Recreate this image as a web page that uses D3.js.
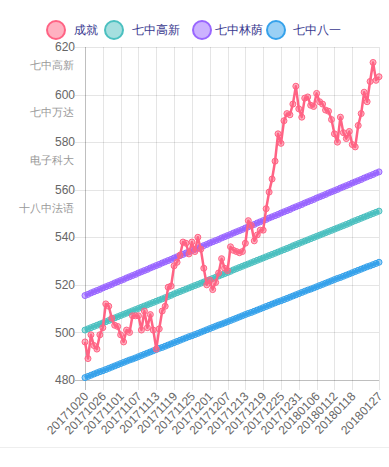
<!DOCTYPE html>
<html>
<head>
<meta charset="utf-8">
<title>成绩走势</title>
<script src="https://cdnjs.cloudflare.com/ajax/libs/d3/7.8.5/d3.min.js"></script>
<style>
body { margin: 0; background: #fff; }
svg text { font-family: "Liberation Sans", Helvetica, Arial, sans-serif; }
</style>
</head>
<body>
<script>
// categories: one per day
var dates = [
  "20171020","20171021","20171022","20171023","20171024","20171025","20171026","20171027","20171028","20171029","20171030","20171031",
  "20171101","20171102","20171103","20171104","20171105","20171106","20171107","20171108","20171109","20171110",
  "20171111","20171112","20171113","20171114","20171115","20171116","20171117","20171118","20171119","20171120",
  "20171121","20171122","20171123","20171124","20171125","20171126","20171127","20171128","20171129","20171130",
  "20171201","20171202","20171203","20171204","20171205","20171206","20171207","20171208","20171209","20171210",
  "20171211","20171212","20171213","20171214","20171215","20171216","20171217","20171218","20171219","20171220",
  "20171221","20171222","20171223","20171224","20171225","20171226","20171227","20171228","20171229","20171230","20171231",
  "20180101","20180102","20180103","20180104","20180105","20180106","20180107","20180108","20180109","20180110",
  "20180111","20180112","20180113","20180114","20180115","20180116","20180117","20180118","20180119","20180120",
  "20180121","20180122","20180123","20180124","20180125","20180126","20180127"
];

var xTickLabels = ["20171020","20171026","20171101","20171107","20171113","20171119","20171125","20171201",
  "20171207","20171213","20171219","20171225","20171231","20180106","20180112","20180118","20180127"];

var yTicks = [480, 500, 520, 540, 560, 580, 600, 620];
var yTickNotes = {620: "七中高新", 600: "七中万达", 580: "电子科大", 560: "十八中法语"};

var chengjiu = [
  496, 489, 499, 494.5, 493, 499, 502, 512, 511, 506,
  503, 502.5, 499, 496, 501, 500, 507, 507, 507, 501,
  509, 502, 507.5, 501, 493, 501.5, 509, 511, 519, 519.5,
  528, 529.5, 532.5, 538, 537.5, 533, 538, 534, 540, 535,
  527, 520, 522, 518, 521, 525, 531, 527, 526, 536,
  534.5, 534, 533.5, 534, 537.5, 547, 545, 538.5, 541, 543,
  543, 552, 559, 564.5, 572, 583.5, 579.5, 589, 592, 591.5,
  596, 603.5, 594, 590.5, 598.5, 599, 595.5, 595, 600.5, 597,
  596, 593.5, 593, 589.5, 583.5, 580, 590.5, 584, 581.5, 584.5,
  579, 578, 587, 592, 601, 597, 605.5, 613.5, 606, 607.5
];

var gaoxin = [
  501.0, 501.5, 502.0, 502.5, 503.0, 503.5, 504.0, 504.5, 505.0, 505.5,
  506.1, 506.6, 507.1, 507.6, 508.1, 508.6, 509.1, 509.6, 510.1, 510.6,
  511.1, 511.6, 512.1, 512.6, 513.1, 513.6, 514.1, 514.6, 515.1, 515.6,
  516.2, 516.7, 517.2, 517.7, 518.2, 518.7, 519.2, 519.7, 520.2, 520.7,
  521.2, 521.7, 522.2, 522.7, 523.2, 523.7, 524.2, 524.7, 525.2, 525.7,
  526.3, 526.8, 527.3, 527.8, 528.3, 528.8, 529.3, 529.8, 530.3, 530.8,
  531.3, 531.8, 532.3, 532.8, 533.3, 533.8, 534.3, 534.8, 535.3, 535.8,
  536.4, 536.9, 537.4, 537.9, 538.4, 538.9, 539.4, 539.9, 540.4, 540.9,
  541.4, 541.9, 542.4, 542.9, 543.4, 543.9, 544.4, 544.9, 545.4, 545.9,
  546.5, 547.0, 547.5, 548.0, 548.5, 549.0, 549.5, 550.0, 550.5, 551.0
];

var linyin = [
  515.5, 516.0, 516.6, 517.1, 517.6, 518.1, 518.7, 519.2, 519.7, 520.2,
  520.8, 521.3, 521.8, 522.3, 522.9, 523.4, 523.9, 524.4, 525.0, 525.5,
  526.0, 526.5, 527.1, 527.6, 528.1, 528.6, 529.2, 529.7, 530.2, 530.7,
  531.3, 531.8, 532.3, 532.8, 533.4, 533.9, 534.4, 534.9, 535.5, 536.0,
  536.5, 537.0, 537.6, 538.1, 538.6, 539.1, 539.7, 540.2, 540.7, 541.2,
  541.8, 542.3, 542.8, 543.3, 543.9, 544.4, 544.9, 545.4, 546.0, 546.5,
  547.0, 547.5, 548.1, 548.6, 549.1, 549.6, 550.2, 550.7, 551.2, 551.7,
  552.3, 552.8, 553.3, 553.8, 554.4, 554.9, 555.4, 555.9, 556.5, 557.0,
  557.5, 558.0, 558.6, 559.1, 559.6, 560.1, 560.7, 561.2, 561.7, 562.2,
  562.8, 563.3, 563.8, 564.3, 564.9, 565.4, 565.9, 566.4, 567.0, 567.5
];

var bayi = [
  481.0, 481.5, 482.0, 482.5, 483.0, 483.5, 483.9, 484.4, 484.9, 485.4,
  485.9, 486.4, 486.9, 487.4, 487.9, 488.4, 488.8, 489.3, 489.8, 490.3,
  490.8, 491.3, 491.8, 492.3, 492.8, 493.3, 493.7, 494.2, 494.7, 495.2,
  495.7, 496.2, 496.7, 497.2, 497.7, 498.2, 498.6, 499.1, 499.6, 500.1,
  500.6, 501.1, 501.6, 502.1, 502.6, 503.1, 503.5, 504.0, 504.5, 505.0,
  505.5, 506.0, 506.5, 507.0, 507.5, 508.0, 508.4, 508.9, 509.4, 509.9,
  510.4, 510.9, 511.4, 511.9, 512.4, 512.9, 513.3, 513.8, 514.3, 514.8,
  515.3, 515.8, 516.3, 516.8, 517.3, 517.8, 518.2, 518.7, 519.2, 519.7,
  520.2, 520.7, 521.2, 521.7, 522.2, 522.7, 523.1, 523.6, 524.1, 524.6,
  525.1, 525.6, 526.1, 526.6, 527.1, 527.6, 528.0, 528.5, 529.0, 529.5
];

var seriesNames = ["成就", "七中高新", "七中林荫", "七中八一"];
var seriesData = [chengjiu, gaoxin, linyin, bayi];
var lineColors = ["#ff6384", "#4bc0c0", "#9966ff", "#36a2eb"];
var fillColors = ["rgba(255,99,132,0.5)", "rgba(75,192,192,0.5)", "rgba(153,102,255,0.5)", "rgba(54,162,235,0.5)"];
var lineWidths = [2.5, 3, 3, 3];

var width = 389, height = 467;
// plot box (window.top is read-only, so no bare "top" here)
var plotLeft = 85, plotRight = 379, plotTop = 47, plotBottom = 380;

var svg = d3.select("body").append("svg")
  .attr("width", width)
  .attr("height", height);

var x = d3.scalePoint().domain(dates).range([plotLeft, plotRight]);
var y = d3.scaleLinear().domain([480, 620]).range([plotBottom, plotTop]);

// grid
var grid = svg.append("g");
grid.selectAll(".hg").data(yTicks).enter().append("line")
  .attr("x1", plotLeft - 10).attr("x2", plotRight)
  .attr("y1", function(d) { return Math.round(y(d)) + 0.5; })
  .attr("y2", function(d) { return Math.round(y(d)) + 0.5; })
  .attr("stroke", function(d) { return d === 480 ? "rgba(0,0,0,0.25)" : "rgba(0,0,0,0.1)"; });
grid.selectAll(".vg").data(xTickLabels).enter().append("line")
  .attr("x1", function(d) { return Math.round(x(d)) + 0.5; })
  .attr("x2", function(d) { return Math.round(x(d)) + 0.5; })
  .attr("y1", plotTop).attr("y2", plotBottom + 10)
  .attr("stroke", function(d, i) { return i === 0 ? "rgba(0,0,0,0.25)" : "rgba(0,0,0,0.1)"; });

// y labels, some ticks carry a school name underneath
var yl = svg.append("g");
yTicks.forEach(function(t) {
  yl.append("text")
    .attr("x", 75).attr("y", y(t))
    .attr("dy", "0.35em")
    .attr("text-anchor", "end")
    .attr("font-size", 12)
    .attr("fill", "#666")
    .text(t);
  if (yTickNotes[t]) {
    yl.append("text")
      .attr("x", 74).attr("y", y(t) + 18)
      .attr("dy", "0.35em")
      .attr("text-anchor", "end")
      .attr("font-size", 11)
      .attr("font-family", "Noto Sans CJK SC")
      .attr("fill", "#999")
      .text(yTickNotes[t]);
  }
});

// x labels
svg.append("g").selectAll("text").data(xTickLabels).enter().append("text")
  .attr("transform", function(d) { return "translate(" + (x(d) + 1) + "," + (plotBottom + 14) + ") rotate(-46)"; })
  .attr("text-anchor", "end")
  .attr("dy", "0.35em")
  .attr("font-size", 12)
  .attr("fill", "#666")
  .text(function(d) { return d; });

// series, last drawn first so 成就 is on top
var line = d3.line()
  .x(function(d, i) { return x(dates[i]); })
  .y(function(d) { return y(d); });

for (var s = seriesData.length - 1; s >= 0; s--) {
  var g = svg.append("g");
  g.append("path")
    .datum(seriesData[s])
    .attr("fill", "none")
    .attr("stroke", lineColors[s])
    .attr("stroke-width", lineWidths[s])
    .attr("stroke-linejoin", "round")
    .attr("d", line);
  g.selectAll("circle").data(seriesData[s]).enter().append("circle")
    .attr("cx", function(d, i) { return x(dates[i]); })
    .attr("cy", function(d) { return y(d); })
    .attr("r", 3)
    .attr("fill", fillColors[s])
    .attr("stroke", lineColors[s])
    .attr("stroke-width", 1);
}

// legend
var legendCx = [56, 114, 202, 276];
var legendTx = [74, 132, 215, 293];
var legend = svg.append("g");
seriesNames.forEach(function(name, i) {
  legend.append("circle")
    .attr("cx", legendCx[i]).attr("cy", 30)
    .attr("r", 9)
    .attr("fill", fillColors[i])
    .attr("stroke", lineColors[i])
    .attr("stroke-width", 2);
  legend.append("text")
    .attr("x", legendTx[i]).attr("y", 30)
    .attr("dy", "0.35em")
    .attr("font-size", 12)
    .attr("font-family", "Noto Sans CJK SC")
    .attr("fill", "#3a3a90")
    .text(name);
});

// faint page border at the bottom
svg.append("line")
  .attr("x1", 0).attr("x2", width)
  .attr("y1", 447.5).attr("y2", 447.5)
  .attr("stroke", "#eee");
</script>
</body>
</html>
